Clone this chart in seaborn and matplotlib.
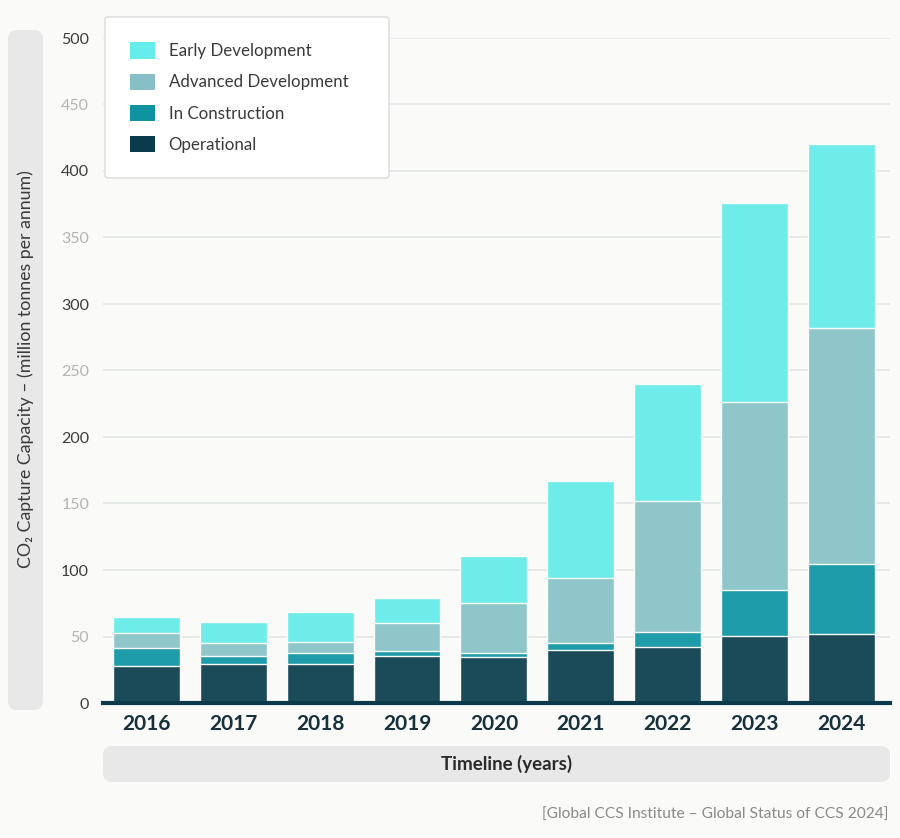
import matplotlib.pyplot as plt
import seaborn as sns
import numpy as np
from matplotlib.patches import FancyBboxPatch, Patch

# data (million tonnes per annum)
years = ['2016', '2017', '2018', '2019', '2020', '2021', '2022', '2023', '2024']
operational = [27.6, 29.1, 29.3, 35.7, 34.4, 39.8, 42.1, 50.4, 51.9]
in_construction = [13.8, 6.2, 8.3, 3.4, 3.2, 5.3, 11.3, 34.6, 52.6]
advanced_dev = [11.2, 9.8, 8.3, 21.1, 37.6, 48.9, 98.5, 141.3, 177.5]
early_dev = [11.8, 15.6, 22.3, 18.5, 35.3, 72.9, 87.9, 149.6, 138.3]

layer_names = ['Operational', 'In Construction', 'Advanced Development', 'Early Development']
layer_colors = ['#1b4a59', '#1f9caa', '#8fc6ca', '#6eecea']
legend_colors = ['#0b3a4a', '#0f93a0', '#86bfc5', '#66ecea']
yticks = [0, 50, 100, 150, 200, 250, 300, 350, 400, 450, 500]

bg = '#fafaf8'
sns.set_theme(style='white')
plt.rcParams['font.family'] = ['Lato', 'DejaVu Sans']

fig = plt.figure(figsize=(9, 8.38), dpi=100, facecolor=bg)
ax = fig.add_axes([103/900, 1-703/838, 787/900, 665/838])
ax.set_facecolor(bg)

# stacked bars: draw cumulative totals from the top layer down
layers = [operational, in_construction, advanced_dev, early_dev]
cum = np.cumsum(np.array(layers), axis=0)
for i in range(len(layers) - 1, -1, -1):
    sns.barplot(x=years, y=cum[i], color=layer_colors[i], saturation=1,
                width=0.77, edgecolor=bg, linewidth=1.0, errorbar=None,
                ax=ax, zorder=3)

ax.set_xlim(-0.5, 8.56)
ax.set_ylim(0, 500)
ax.set_yticks(yticks)
ax.set_yticklabels([str(t) for t in yticks])
for i, lab in enumerate(ax.get_yticklabels()):
    lab.set_color('#3c3c3c' if i % 2 == 0 else '#b4b4b4')
    lab.set_fontsize(11.5)
for lab in ax.get_xticklabels():
    lab.set_fontweight('bold')
    lab.set_fontsize(15)
    lab.set_color('#16303c')
ax.tick_params(axis='y', length=0, pad=10)
ax.tick_params(axis='x', length=0, pad=8)
ax.set_xlabel('')
ax.set_ylabel('')
ax.grid(axis='y', color='#e3e8e8', linewidth=1.3, zorder=0)
ax.set_axisbelow(True)
for s in ['top', 'right', 'left']:
    ax.spines[s].set_visible(False)
ax.spines['bottom'].set_color('#0b3a4a')
ax.spines['bottom'].set_linewidth(3)
ax.spines['bottom'].set_zorder(4)

# legend
handles = [Patch(facecolor=legend_colors[i], edgecolor='none', label=layer_names[i])
           for i in range(3, -1, -1)]
leg = ax.legend(handles=handles, loc='upper left', mode='expand',
                bbox_to_anchor=(105/900, 1-173/838, 284/900, 156/838),
                bbox_transform=fig.transFigure,
                fontsize=12.2, frameon=True, fancybox=True, borderaxespad=0,
                borderpad=1.5, labelspacing=0.84, handlelength=1.45,
                handleheight=1.1, handletextpad=0.8, labelcolor='#3a3a3a')
leg.get_frame().set_facecolor('white')
leg.get_frame().set_edgecolor('#e0e0e0')
leg.get_frame().set_linewidth(1.2)
leg.get_frame().set_alpha(1)
leg.set_zorder(10)

# grey label boxes
asp = 900/838
fig.patches.append(FancyBboxPatch((8/900, 1-710/838), 35/900, 680/838,
                                  boxstyle='round,pad=0,rounding_size=0.01',
                                  mutation_aspect=asp, transform=fig.transFigure,
                                  facecolor='#e8e8e8', edgecolor='none', zorder=0))
fig.patches.append(FancyBboxPatch((103/900, 1-782/838), 787/900, 36/838,
                                  boxstyle='round,pad=0,rounding_size=0.01',
                                  mutation_aspect=asp, transform=fig.transFigure,
                                  facecolor='#e8e8e8', edgecolor='none', zorder=0))

fig.text(26/900, 1-369/838, 'CO₂ Capture Capacity – (million tonnes per annum)',
         rotation=90, ha='center', va='center', fontsize=12.8, color='#3a3a3a')
fig.text(507/900, 1-764/838, 'Timeline (years)', ha='center', va='center',
         fontsize=13.5, fontweight='bold', color='#2a2a2a')
fig.text(888/900, 1-815/838, '[Global CCS Institute – Global Status of CCS 2024]',
         ha='right', va='center', fontsize=11.2, color='#8a8a8a')

fig.savefig('out.png', dpi=100, facecolor=bg)
